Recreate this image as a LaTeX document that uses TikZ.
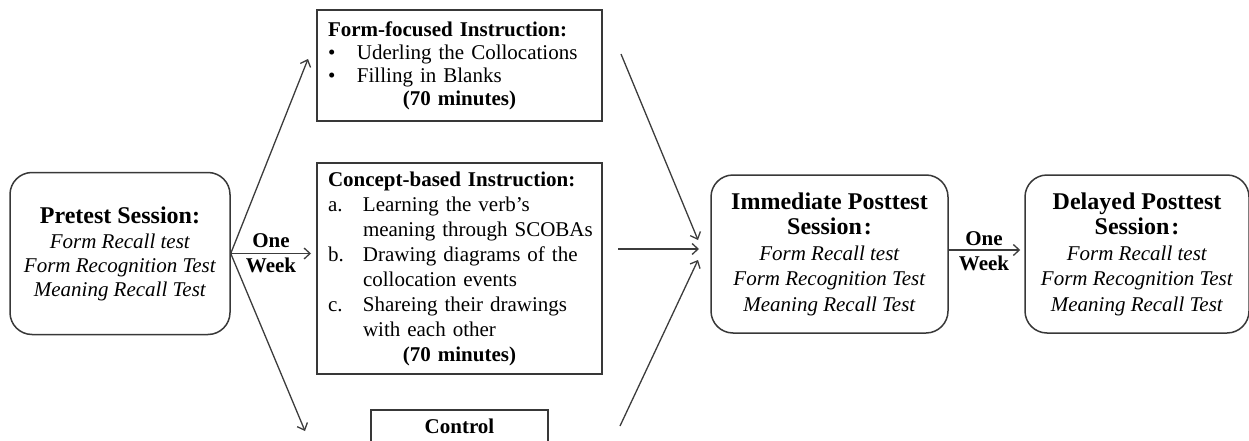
\documentclass[tikz,border=0pt]{standalone}
\usepackage{fontspec}
\setmainfont{Liberation Serif}
\usetikzlibrary{arrows.meta,calc}
\definecolor{boxc}{HTML}{383838}
\definecolor{arrc}{HTML}{3C3C3C}
\newcommand\fsz{\fontsize{21}{24}\selectfont}
\newcommand\fszb{\fontsize{21}{25.5}\selectfont}
\newcommand\fszc{\fontsize{21}{25}\selectfont}
\newcommand\fszf{\fontsize{21}{23}\selectfont}
\newcommand\ttl[1]{{\fontsize{24}{26}\selectfont\bfseries #1}}
\tikzset{
  rbox/.style={draw=boxc, line width=1.5pt, rounded corners=22pt, align=center, inner sep=0pt},
  sbox/.style={draw=boxc, line width=1.5pt, inner sep=0pt},
  arr/.style={draw=arrc, line width=1.3pt, -{Straight Barb[length=6pt,width=11pt]}},
  lbl/.style={font=\fszb\bfseries, align=center, inner sep=0pt}
}
\begin{document}
\begin{tikzpicture}[x=1pt,y=-1pt]
\path[use as bounding box] (0,0) rectangle (1249,441);
\clip (0,0) rectangle (1249,441);

% boxes
\node[rbox, font=\fsz, minimum width=220pt, minimum height=162pt] (pre) at (120,253.5)
  {\ttl{Pretest Session:}\\[1pt] \textit{Form Recall test}\\ \textit{Form Recognition Test}\\ \textit{Meaning Recall Test}};

\node[sbox, font=\fszf, minimum width=285pt, minimum height=111pt, text width=263pt, align=left] (ff) at (459.5,65.5)
  {\textbf{Form-focused Instruction:}\\
   \makebox[29pt][l]{\textbullet}Uderling the Collocations\\
   \makebox[29pt][l]{\textbullet}Filling in Blanks\\
   \makebox[263pt][c]{\textbf{(70 minutes)}}};

\node[sbox, font=\fszc, minimum width=285pt, minimum height=211pt, text width=263pt, align=left] (cb) at (459.5,268.5)
  {\mbox{\textbf{Concept-based Instruction:}}\\
   \makebox[35pt][l]{a.}\mbox{Learning the verb’s}\\
   \hspace*{35pt}\mbox{meaning through SCOBAs}\\
   \makebox[35pt][l]{b.}\mbox{Drawing diagrams of\hspace{7pt}the}\\
   \hspace*{35pt}\mbox{collocation events}\\
   \makebox[35pt][l]{c.}\mbox{Shareing their drawings}\\
   \hspace*{35pt}\mbox{with each other}\\
   \makebox[263pt][c]{\textbf{(70 minutes)}}};

\node[sbox, font=\fsz, anchor=north, minimum width=177pt, text height=15pt, inner ysep=9pt] (ctl) at (459.5,409)
  {\textbf{Control}\rule[-50pt]{0pt}{0pt}};

\node[rbox, font=\fszb, minimum width=237pt, minimum height=158pt] (imm) at (829.5,254)
  {\ttl{Immediate Posttest}\\ \ttl{Session\hspace{2pt}:}\\ \textit{Form Recall test}\\ \textit{Form Recognition Test}\\ \textit{Meaning Recall Test}};

\node[rbox, font=\fszb, minimum width=224pt, minimum height=158pt] (del) at (1137,254)
  {\ttl{Delayed Posttest}\\ \ttl{Session\hspace{2pt}:}\\ \textit{Form Recall test}\\ \textit{Form Recognition Test}\\ \textit{Meaning Recall Test}};

% free ends
\coordinate (t1) at (308,59);
\coordinate (t2) at (311,253.5);
\coordinate (t3) at (305,431);
\coordinate (s1) at (621,54);
\coordinate (s2) at (618,249);
\coordinate (s3) at (620,426);
\coordinate (e1) at (698,240);
\coordinate (e2) at (699,249);
\coordinate (e3) at (698,260);

% connectors
\draw[arr] (pre.east) -- (t1);
\draw[arr] (pre.east) -- (t2);
\draw[arr] (pre.east) -- (t3);
\draw[arr] (s1) -- (e1);
\draw[arr] (s2) -- (e2);
\draw[arr] (s3) -- (e3);
\draw[arr] ([yshift=4pt]imm.east) -- ([xshift=-4pt,yshift=4pt]del.west);

% labels
\node[lbl] (ow1) at (271,253) {One\\Week};
\node[lbl] (ow2) at (984,251) {One\\Week};
\end{tikzpicture}
\end{document}
